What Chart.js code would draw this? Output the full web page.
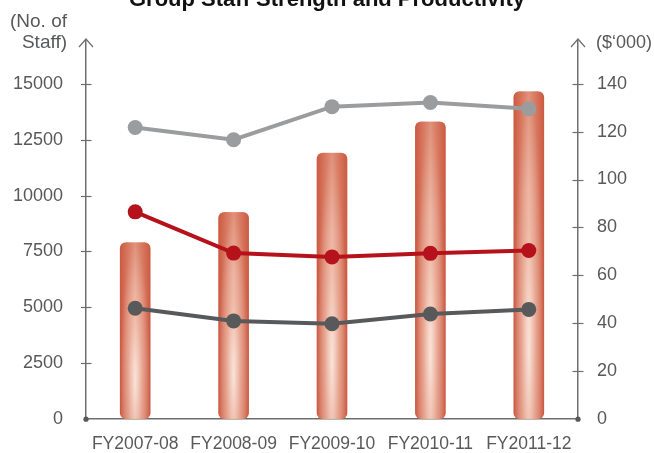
<!DOCTYPE html>
<html>
<head>
<meta charset="utf-8">
<script src="https://cdn.jsdelivr.net/npm/chart.js@4/dist/chart.umd.min.js"></script>
<style>
  html, body { margin: 0; padding: 0; background: #ffffff; }
  #wrap { width: 654px; height: 453px; position: relative; }
</style>
</head>
<body>
<div id="wrap"><canvas id="chart"></canvas></div>
<script>
// Financial years on the category axis
const categories = ['FY2007-08', 'FY2008-09', 'FY2009-10', 'FY2010-11', 'FY2011-12'];
// Number of staff (left axis, bars)
const staffStrength = [7900, 9250, 11900, 13300, 14650];
// Productivity figures in $'000 (right axis, lines)
const productivityHigh = [121.7, 116.6, 130.4, 132.1, 129.5];
const productivityMid = [86.5, 69.3, 67.7, 69.2, 70.4];
const productivityLow = [46.3, 41.0, 39.8, 43.9, 45.8];
// Tick labels for both value axes
const staffTicks = [0, 2500, 5000, 7500, 10000, 12500, 15000];
const valueTicks = [0, 20, 40, 60, 80, 100, 120, 140];

const AXIS_COLOR = '#6d6e70';
const TEXT_COLOR = '#58595b';
const FONT = "'Liberation Sans', Arial, Helvetica, sans-serif";
const BAR_W = 30;

Chart.defaults.font.family = FONT;
Chart.defaults.color = TEXT_COLOR;

// Horizontal shading across each bar (darker edges, pale core)
function barFill(ctx) {
  const chart = ctx.chart;
  if (!chart.chartArea || ctx.dataIndex === undefined) return '#e0917a';
  const cx = chart.scales.x.getPixelForValue(ctx.dataIndex);
  const g = chart.ctx.createLinearGradient(cx - BAR_W / 2, 0, cx + BAR_W / 2, 0);
  g.addColorStop(0, '#cb5a43');
  g.addColorStop(0.2, '#d97a61');
  g.addColorStop(0.5, '#ebad97');
  g.addColorStop(0.8, '#d97a61');
  g.addColorStop(1, '#cb5a43');
  return g;
}

function roundRectPath(c, x, y, w, h, r) {
  c.beginPath();
  c.moveTo(x + r, y);
  c.lineTo(x + w - r, y);
  c.quadraticCurveTo(x + w, y, x + w, y + r);
  c.lineTo(x + w, y + h - r);
  c.quadraticCurveTo(x + w, y + h, x + w - r, y + h);
  c.lineTo(x + r, y + h);
  c.quadraticCurveTo(x, y + h, x, y + h - r);
  c.lineTo(x, y + r);
  c.quadraticCurveTo(x, y, x + r, y);
  c.closePath();
}

// Soft highlight and top shading laid over the bars
const barGloss = {
  id: 'barGloss',
  afterDatasetDraw(chart, args) {
    if (args.index !== 0) return;
    const c = chart.ctx;
    args.meta.data.forEach(el => {
      const x = el.x - el.width / 2;
      const top = el.y;
      const h = el.base - el.y;
      const w = el.width;
      c.save();
      roundRectPath(c, x, top, w, h, 6);
      c.clip();
      // elliptical glow low in the bar
      c.save();
      c.translate(el.x, top + h * 0.8);
      c.scale(w * 0.5, h * 0.8);
      const rg = c.createRadialGradient(0, 0, 0, 0, 0, 1);
      rg.addColorStop(0, 'rgba(255,246,240,0.8)');
      rg.addColorStop(0.5, 'rgba(250,225,212,0.35)');
      rg.addColorStop(1, 'rgba(255,255,255,0)');
      c.fillStyle = rg;
      c.fillRect(-2, -2, 4, 4);
      c.restore();
      // warmer tone towards the top
      const vg = c.createLinearGradient(0, top, 0, top + h);
      vg.addColorStop(0, 'rgba(204,92,68,0.35)');
      vg.addColorStop(0.3, 'rgba(204,92,68,0.06)');
      vg.addColorStop(0.7, 'rgba(204,92,68,0)');
      vg.addColorStop(1, 'rgba(204,92,68,0.1)');
      c.fillStyle = vg;
      c.fillRect(x, top, w, h);
      c.restore();
    });
  }
};

// Axis furniture: crossing tick marks, arrow heads, end dots, captions, title
const axisDecor = {
  id: 'axisDecor',
  afterDraw(chart) {
    const c = chart.ctx;
    const area = chart.chartArea;
    const yL = chart.scales.yL;
    const yR = chart.scales.yR;
    const xl = area.left, xr = area.right, yb = area.bottom, yt = area.top;
    c.save();
    c.strokeStyle = AXIS_COLOR;
    c.lineWidth = 1.2;
    staffTicks.forEach(v => {
      if (v === 0) return;
      const p = Math.round(yL.getPixelForValue(v)) + 0.5;
      c.beginPath(); c.moveTo(xl - 5, p); c.lineTo(xl + 5.5, p); c.stroke();
    });
    valueTicks.forEach(v => {
      if (v === 0) return;
      const p = Math.round(yR.getPixelForValue(v)) + 0.5;
      c.beginPath(); c.moveTo(xr - 5.5, p); c.lineTo(xr + 5.5, p); c.stroke();
    });
    // arrow heads on the value axes
    [xl, xr].forEach(x => {
      c.beginPath();
      c.moveTo(x - 7, yt + 7);
      c.lineTo(x, yt - 1);
      c.lineTo(x + 7, yt + 7);
      c.stroke();
    });
    // dots where the axes meet the baseline
    c.fillStyle = '#58595b';
    [xl, xr].forEach(x => {
      c.beginPath(); c.arc(x, yb, 2.6, 0, Math.PI * 2); c.fill();
    });
    // axis captions
    c.fillStyle = TEXT_COLOR;
    c.font = '19px ' + FONT;
    c.textBaseline = 'middle';
    c.textAlign = 'right';
    c.fillText('(No. of', 67, 22);
    c.fillText('Staff)', 67, 43);
    c.textAlign = 'left';
    c.font = '18px ' + FONT;
    c.fillText('($\u2018000)', 596, 43);
    // chart title
    c.fillStyle = '#111111';
    c.font = 'bold 22px ' + FONT;
    c.textAlign = 'center';
    c.textBaseline = 'alphabetic';
    c.fillText('Group Staff Strength and Productivity', 327, 6);
    c.restore();
  }
};

function lineSet(label, data, color) {
  return {
    type: 'line',
    label: label,
    data: data,
    yAxisID: 'yR',
    borderColor: color,
    backgroundColor: color,
    borderWidth: 4,
    pointRadius: 7.5,
    pointHoverRadius: 7.5,
    pointBorderWidth: 0,
    pointBackgroundColor: color,
    tension: 0,
    fill: false,
    order: 0
  };
}

const plainTick = v => String(v);

new Chart(document.getElementById('chart'), {
  type: 'bar',
  data: {
    labels: categories,
    datasets: [
      {
        type: 'bar',
        label: 'No. of Staff',
        data: staffStrength,
        yAxisID: 'yL',
        backgroundColor: barFill,
        borderWidth: 0,
        borderRadius: 6,
        borderSkipped: false,
        barThickness: BAR_W,
        order: 3
      },
      lineSet('Productivity A', productivityHigh, '#9b9c9e'),
      lineSet('Productivity B', productivityMid, '#b5121b'),
      lineSet('Productivity C', productivityLow, '#58595b')
    ]
  },
  options: {
    responsive: true,
    maintainAspectRatio: false,
    animation: false,
    devicePixelRatio: 1,
    layout: { padding: { top: 40, left: 0, right: 0, bottom: 0 } },
    plugins: {
      legend: { display: false },
      tooltip: { enabled: false },
      title: { display: false }
    },
    scales: {
      x: {
        type: 'category',
        offset: true,
        grid: { drawOnChartArea: false, drawTicks: false },
        border: { display: true, color: AXIS_COLOR, width: 1.5 },
        ticks: { color: TEXT_COLOR, font: { size: 17.5 }, padding: 14, maxRotation: 0, autoSkip: false },
        afterFit(s) { s.height = 31; }
      },
      yL: {
        type: 'linear',
        position: 'left',
        min: 0,
        max: 16954,
        afterBuildTicks(s) { s.ticks = staffTicks.map(v => ({ value: v })); },
        grid: { drawOnChartArea: false, drawTicks: false },
        border: { display: true, color: AXIS_COLOR, width: 1.5 },
        ticks: { color: TEXT_COLOR, font: { size: 18 }, padding: 23, callback: plainTick },
        afterFit(s) { s.width = 86; }
      },
      yR: {
        type: 'linear',
        position: 'right',
        min: 0,
        max: 158.2,
        afterBuildTicks(s) { s.ticks = valueTicks.map(v => ({ value: v })); },
        grid: { drawOnChartArea: false, drawTicks: false },
        border: { display: true, color: AXIS_COLOR, width: 1.5 },
        ticks: { color: TEXT_COLOR, font: { size: 18 }, padding: 19, callback: plainTick },
        afterFit(s) { s.width = 76; }
      }
    }
  },
  plugins: [barGloss, axisDecor]
});
</script>
</body>
</html>
